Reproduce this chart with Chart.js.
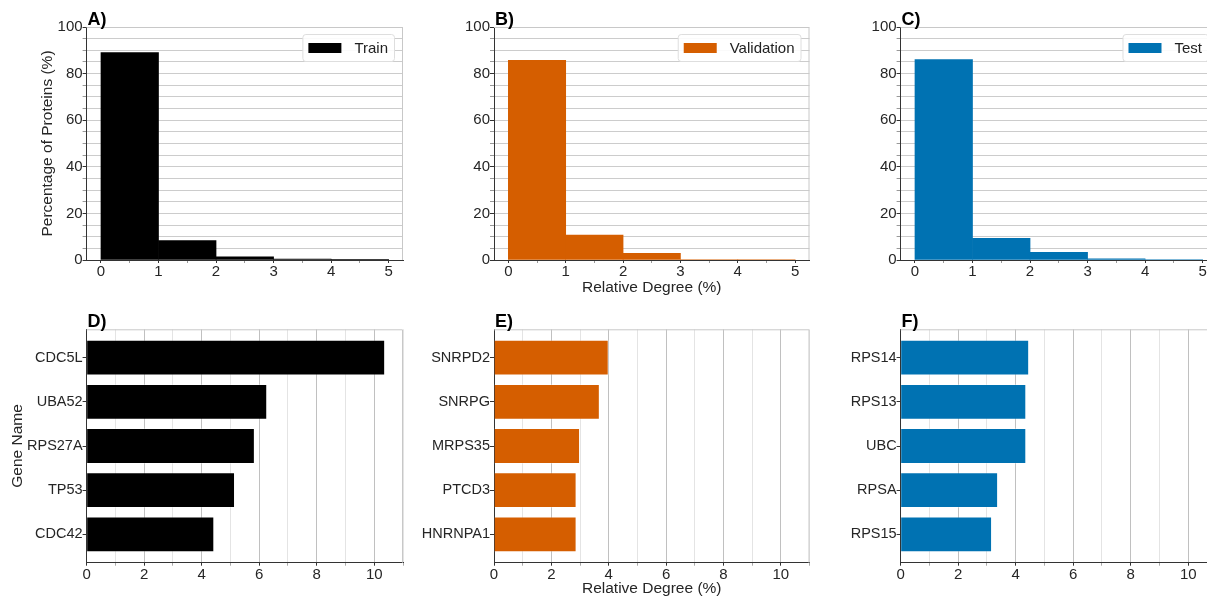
<!DOCTYPE html>
<html lang="en">
<head>
<meta charset="UTF-8" />
<title>Relative Degree</title>
<script src="https://cdn.jsdelivr.net/npm/chart.js@4.4.1/dist/chart.umd.min.js"></script>
<style>
  html, body { margin: 0; padding: 0; background: #fff; overflow: hidden; }
  body { width: 1207px; height: 596px; position: relative; }
  canvas { position: absolute; }
</style>
</head>
<body>
<canvas id="histTrain"></canvas>
<canvas id="histVal"></canvas>
<canvas id="histTest"></canvas>
<canvas id="topTrain"></canvas>
<canvas id="topVal"></canvas>
<canvas id="topTest"></canvas>
<script>
// histogram bins of relative degree (%), bin start values
const binStarts = [0, 1, 2, 3, 4];
const trainPct = [89.0, 8.3, 1.4, 0.4, 0.1];
const valPct = [85.7, 10.7, 2.9, 0.2, 0.2];
const testPct = [86.0, 9.3, 3.3, 0.5, 0.2];

// top 5 genes by relative degree (%)
const trainGenes = ['CDC5L', 'UBA52', 'RPS27A', 'TP53', 'CDC42'];
const trainDeg = [10.38, 6.28, 5.85, 5.16, 4.44];
const valGenes = ['SNRPD2', 'SNRPG', 'MRPS35', 'PTCD3', 'HNRNPA1'];
const valDeg = [4.0, 3.69, 3.0, 2.88, 2.88];
const testGenes = ['RPS14', 'RPS13', 'UBC', 'RPSA', 'RPS15'];
const testDeg = [4.47, 4.37, 4.37, 3.39, 3.18];

const FONT = '"Liberation Sans", Arial, sans-serif';
Chart.defaults.font.family = FONT;
Chart.defaults.font.size = 15;
Chart.defaults.color = '#262626';

// page columns / rows (canvas box + plot area edges)
const cols = [
  { x: 0, w: 410, l: 86.6, r: 403 },
  { x: 410, w: 407, l: 494, r: 809.5 },
  { x: 817, w: 410, l: 900.6, r: 1217 }
];
const rows = [
  { y: 0, h: 300, t: 27, b: 260 },
  { y: 300, h: 296, t: 329.3, b: 562.7 }
];

const tickVal = c => (c && c.tick ? c.tick.value : 0);

const panelDecor = {
  id: 'panelDecor',
  afterDraw(chart, args, opts) {
    const { ctx, chartArea: a } = chart;
    ctx.save();
    // light frame along top and right
    ctx.strokeStyle = '#c8c8c8';
    ctx.lineWidth = 1;
    ctx.beginPath();
    ctx.moveTo(a.left, a.top + 0.5);
    ctx.lineTo(a.right - 0.5, a.top + 0.5);
    ctx.lineTo(a.right - 0.5, a.bottom);
    ctx.stroke();

    ctx.fillStyle = '#000';
    ctx.font = 'bold 18px ' + FONT;
    ctx.textBaseline = 'alphabetic';
    ctx.textAlign = 'left';
    ctx.fillText(opts.letter, a.left + 1, a.top - 2);

    if (opts.legend) {
      const ds = chart.data.datasets[0];
      ctx.font = '15px ' + FONT;
      const tw = ctx.measureText(ds.label).width;
      const w = 6 + 33 + 13 + tw + 6, h = 27;
      const x = a.right - 9 - w, y = a.top + 7;
      ctx.beginPath();
      ctx.roundRect(x + 0.5, y + 0.5, w, h, 3);
      ctx.fillStyle = 'rgba(255,255,255,0.9)';
      ctx.fill();
      ctx.strokeStyle = '#dedede';
      ctx.stroke();
      ctx.fillStyle = ds.backgroundColor;
      ctx.fillRect(x + 6, y + 9, 33, 10);
      ctx.fillStyle = '#222';
      ctx.textBaseline = 'middle';
      ctx.fillText(ds.label, x + 52, y + h / 2 + 1);
    }
    ctx.restore();
  }
};

function placeCanvas(id, col, row) {
  const c = document.getElementById(id);
  c.width = col.w;
  c.height = row.h;
  c.style.left = col.x + 'px';
  c.style.top = row.y + 'px';
  return c;
}

function histChart(id, col, letter, label, color, vals, xTitle, yTitle) {
  const row = rows[0];
  const canvas = placeCanvas(id, col, row);
  return new Chart(canvas, {
    type: 'bar',
    data: {
      datasets: [{
        label: label,
        data: binStarts.map((b, i) => ({ x: b + 0.5, y: vals[i] })),
        backgroundColor: color,
        borderWidth: 0,
        barThickness: 'flex',
        categoryPercentage: 1,
        barPercentage: 1
      }]
    },
    options: {
      responsive: false,
      animation: false,
      layout: { padding: { left: 0, top: row.t - row.y, right: col.x + col.w - col.r, bottom: 0 } },
      plugins: { legend: { display: false }, tooltip: { enabled: false }, panelDecor: { letter: letter, legend: true } },
      scales: {
        x: {
          type: 'linear',
          offset: false,
          min: -0.25,
          max: 5.25,
          afterBuildTicks: s => { s.ticks = []; for (let v = 0; v <= 5; v += 0.5) s.ticks.push({ value: v }); },
          afterFit: s => { s.height = row.y + row.h - row.b; },
          ticks: { autoSkip: false, maxRotation: 0, padding: 0, callback: v => Number.isInteger(v) ? String(v) : '' },
          grid: { offset: false, drawOnChartArea: false, tickLength: 3, tickColor: c => Number.isInteger(tickVal(c)) ? '#333' : '#999' },
          border: { color: '#333', width: 1 },
          title: { display: !!xTitle, text: xTitle || '', font: { size: 15.5 }, padding: { top: 0, bottom: 2.6 } }
        },
        y: {
          min: 0,
          max: 100,
          afterBuildTicks: s => { s.ticks = []; for (let v = 0; v <= 100; v += 5) s.ticks.push({ value: v }); },
          afterFit: s => { s.width = col.l - col.x; },
          ticks: { autoSkip: false, padding: 0, callback: v => v % 20 === 0 ? String(v) : '' },
          grid: { color: '#cccccc', lineWidth: 1, tickLength: 4, tickColor: c => tickVal(c) % 20 === 0 ? '#333' : '#999' },
          border: { color: '#333', width: 1 },
          title: { display: !!yTitle, text: yTitle || '', font: { size: 15.5 }, padding: { top: 38.3, bottom: 0 } }
        }
      }
    },
    plugins: [panelDecor]
  });
}

function topChart(id, col, letter, color, genes, vals, xTitle, yTitle) {
  const row = rows[1];
  const canvas = placeCanvas(id, col, row);
  return new Chart(canvas, {
    type: 'bar',
    data: {
      datasets: [{
        label: letter,
        data: genes.map((g, i) => ({ x: vals[i], y: i })),
        backgroundColor: color,
        borderColor: 'rgba(255,255,255,0.3)',
        borderWidth: 1,
        categoryPercentage: 0.81,
        barPercentage: 1
      }]
    },
    options: {
      indexAxis: 'y',
      responsive: false,
      animation: false,
      layout: { padding: { left: 0, top: row.t - row.y, right: col.x + col.w - col.r, bottom: 0 } },
      plugins: { legend: { display: false }, tooltip: { enabled: false }, panelDecor: { letter: letter, legend: false } },
      scales: {
        x: {
          type: 'linear',
          min: 0,
          max: 11,
          afterBuildTicks: s => { s.ticks = []; for (let v = 0; v <= 11; v++) s.ticks.push({ value: v }); },
          afterFit: s => { s.height = row.y + row.h - row.b; },
          ticks: { autoSkip: false, maxRotation: 0, padding: 0, callback: v => v % 2 === 0 ? String(v) : '' },
          grid: {
            color: c => tickVal(c) % 2 === 0 ? '#c0c0c0' : '#e4e4e4',
            tickLength: 3,
            tickColor: c => tickVal(c) % 2 === 0 ? '#333' : '#aaa'
          },
          border: { color: '#333', width: 1 },
          title: { display: !!xTitle, text: xTitle || '', font: { size: 15.5 }, padding: { top: 0, bottom: -2 } }
        },
        y: {
          type: 'linear',
          offset: false,
          reverse: true,
          min: -0.64,
          max: 4.64,
          afterBuildTicks: s => { s.ticks = genes.map((g, i) => ({ value: i })); },
          afterFit: s => { s.width = col.l - col.x; },
          ticks: { autoSkip: false, padding: 0, font: { size: 14.5 }, callback: v => genes[v] },
          grid: { offset: false, drawOnChartArea: false, tickLength: 4, tickColor: '#333' },
          border: { color: '#333', width: 1 },
          title: { display: !!yTitle, text: yTitle || '', font: { size: 15.5 }, padding: { top: 8.3, bottom: 0 } }
        }
      }
    },
    plugins: [panelDecor]
  });
}

const BLACK = '#000000';
const ORANGE = '#D55E00';
const BLUE = '#0072B2';

histChart('histTrain', cols[0], 'A)', 'Train', BLACK, trainPct, null, 'Percentage of Proteins (%)');
histChart('histVal', cols[1], 'B)', 'Validation', ORANGE, valPct, 'Relative Degree (%)', null);
histChart('histTest', cols[2], 'C)', 'Test', BLUE, testPct, null, null);

topChart('topTrain', cols[0], 'D)', BLACK, trainGenes, trainDeg, null, 'Gene Name');
topChart('topVal', cols[1], 'E)', ORANGE, valGenes, valDeg, 'Relative Degree (%)', null);
topChart('topTest', cols[2], 'F)', BLUE, testGenes, testDeg, null, null);
</script>
</body>
</html>
